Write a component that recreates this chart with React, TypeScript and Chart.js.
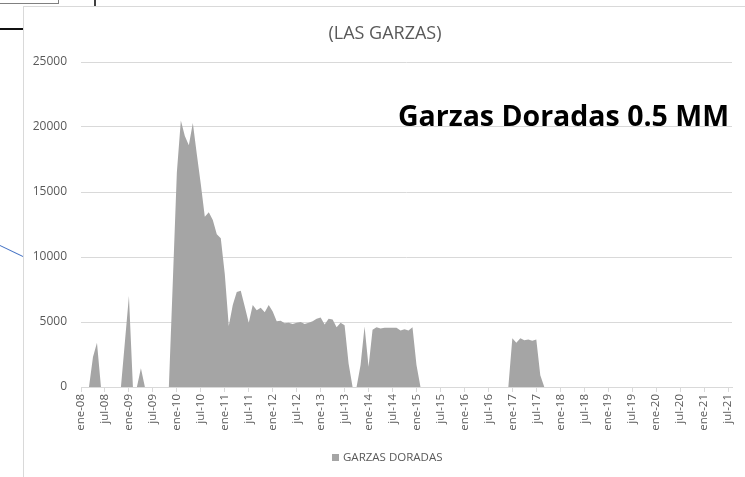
import React, { useEffect, useRef } from "react";
import { Chart, registerables } from "chart.js";

Chart.register(...registerables);

const monthNames = ["ene", "feb", "mar", "abr", "may", "jun", "jul", "ago", "sep", "oct", "nov", "dic"];
const yearList = [2008, 2009, 2010, 2011, 2012, 2013, 2014, 2015, 2016, 2017, 2018, 2019, 2020, 2021];
const lastMonthsOf2021 = 8; // data ends ago-21

const values2008 = [0, 0, 0, 2300, 3400, 0, 0, 0, 0, 0, 0, 3500];
const values2009 = [7000, 0, 0, 1450, 0, 0, 0, 0, 0, 0, 0, 8200];
const values2010 = [16500, 20500, 19300, 18600, 20300, 17900, 15600, 13100, 13450, 12850, 11750, 11450];
const values2011 = [8700, 4700, 6300, 7300, 7400, 6200, 4950, 6300, 5900, 6100, 5750, 6300];
const values2012 = [5800, 5050, 5100, 4900, 4950, 4850, 4950, 5000, 4850, 4950, 5050, 5250];
const values2013 = [5350, 4800, 5250, 5200, 4600, 4950, 4750, 1800, 0, 0, 1700, 4650];
const values2014 = [1550, 4400, 4600, 4500, 4550, 4550, 4550, 4550, 4350, 4450, 4350, 4600];
const values2015 = [1700, 0, 0, 0, 0, 0, 0, 0, 0, 0, 0, 0];
const values2016 = [0, 0, 0, 0, 0, 0, 0, 0, 0, 0, 0, 0];
const values2017 = [3750, 3400, 3750, 3600, 3650, 3550, 3650, 900, 0, 0, 0, 0];
const values2018 = [0, 0, 0, 0, 0, 0, 0, 0, 0, 0, 0, 0];
const values2019 = [0, 0, 0, 0, 0, 0, 0, 0, 0, 0, 0, 0];
const values2020 = [0, 0, 0, 0, 0, 0, 0, 0, 0, 0, 0, 0];
const values2021 = [0, 0, 0, 0, 0, 0, 0, 0];

const seriesLabel = "GARZAS DORADAS";
const chartTitle = "(LAS GARZAS)";
const annotationText = "Garzas Doradas 0.5 MM";
const yTickValues = [0, 5000, 10000, 15000, 20000, 25000];

const categories: string[] = [];
yearList.forEach((y) => {
  const count = y === 2021 ? lastMonthsOf2021 : 12;
  for (let i = 0; i < count; i++) {
    categories.push(`${monthNames[i]}-${String(y).slice(2)}`);
  }
});

const seriesValues = [
  ...values2008, ...values2009, ...values2010, ...values2011, ...values2012,
  ...values2013, ...values2014, ...values2015, ...values2016, ...values2017,
  ...values2018, ...values2019, ...values2020, ...values2021,
];

const FONT = "'Open Sans', 'DejaVu Sans', sans-serif";
const TEXT = "#595959";
const GRID = "#D9D9D9";
const FILL = "#A5A5A5";

const decorPlugin = {
  id: "decor",
  afterDraw(chart: any) {
    const ctx = chart.ctx;
    ctx.save();
    // title
    ctx.fillStyle = TEXT;
    ctx.font = `18px ${FONT}`;
    ctx.textAlign = "center";
    ctx.textBaseline = "middle";
    ctx.fillText(chartTitle, 362, 28);
    // annotation
    ctx.fillStyle = "#000000";
    ctx.font = `bold 28.5px ${FONT}`;
    ctx.textAlign = "right";
    ctx.textBaseline = "alphabetic";
    ctx.fillText(annotationText, 706, 120);
    // legend
    ctx.fillStyle = FILL;
    ctx.fillRect(309, 448, 7, 7);
    ctx.fillStyle = TEXT;
    ctx.font = `11.5px ${FONT}`;
    ctx.textAlign = "left";
    ctx.textBaseline = "middle";
    ctx.fillText(seriesLabel, 320, 452);
    ctx.restore();
  },
};

function ChartCanvas() {
  const ref = useRef<HTMLCanvasElement | null>(null);
  useEffect(() => {
    if (!ref.current) return;
    const chart = new Chart(ref.current, {
      type: "line",
      data: {
        labels: categories,
        datasets: [
          {
            label: seriesLabel,
            data: seriesValues,
            fill: "origin",
            backgroundColor: FILL,
            borderColor: "rgba(0,0,0,0)",
            borderWidth: 0,
            pointRadius: 0,
            tension: 0,
          },
        ],
      },
      options: {
        animation: false,
        responsive: false,
        layout: { padding: { left: 8, right: 13, top: 56, bottom: 30 } },
        plugins: { legend: { display: false }, tooltip: { enabled: false }, title: { display: false } },
        scales: {
          x: {
            type: "category",
            offset: false,
            afterBuildTicks: (scale: any) => {
              scale.ticks = scale.ticks.filter((t: any) => t.value % 6 === 0);
            },
            afterFit: (scale: any) => {
              scale.height = 60;
            },
            ticks: {
              autoSkip: false,
              minRotation: 90,
              maxRotation: 90,
              padding: 2,
              color: TEXT,
              font: { family: FONT, size: 11.5 },
              callback: function (this: any, v: any) {
                return this.getLabelForValue(v);
              },
            },
            grid: { drawOnChartArea: false, drawTicks: true, tickLength: 5, color: GRID },
            border: { display: true, color: GRID },
          },
          y: {
            min: 0,
            max: 25000,
            afterBuildTicks: (scale: any) => {
              scale.ticks = yTickValues.map((v) => ({ value: v }));
            },
            afterFit: (scale: any) => {
              scale.width = 50;
            },
            ticks: {
              stepSize: 5000,
              padding: 14,
              color: TEXT,
              font: { family: FONT, size: 12 },
              callback: (v: any) => String(v),
            },
            grid: { color: GRID, drawTicks: false },
            border: { display: false },
          },
        },
      },
      plugins: [decorPlugin],
    } as any);
    return () => chart.destroy();
  }, []);
  return <canvas ref={ref} width={722} height={471} style={{ display: "block" }} />;
}

export default function App() {
  return (
    <div style={{ position: "absolute", left: 0, top: 0, width: 745, height: 477, overflow: "hidden", background: "#fff" }}>
      {/* surrounding sheet artifacts */}
      <div style={{ position: "absolute", left: 0, top: 0, width: 58, height: 3, borderRight: "1px solid #808080", borderBottom: "1px solid #808080" }} />
      <div style={{ position: "absolute", left: 94, top: 0, width: 2, height: 6, background: "#404040" }} />
      <div style={{ position: "absolute", left: 0, top: 28, width: 23, height: 2, background: "#111" }} />
      <div
        style={{
          position: "absolute", left: 0, top: 245, width: 25.5, height: 1, background: "#4472C4",
          transformOrigin: "0 0", transform: "rotate(25.5deg)",
        }}
      />
      <div style={{ position: "absolute", left: 23, top: 6, width: 722, height: 471 }}>
        <ChartCanvas />
      </div>
      <div style={{ position: "absolute", left: 23, top: 6, width: 1, height: 471, background: GRID }} />
      <div style={{ position: "absolute", left: 23, top: 6, width: 722, height: 1, background: GRID }} />
    </div>
  );
}
